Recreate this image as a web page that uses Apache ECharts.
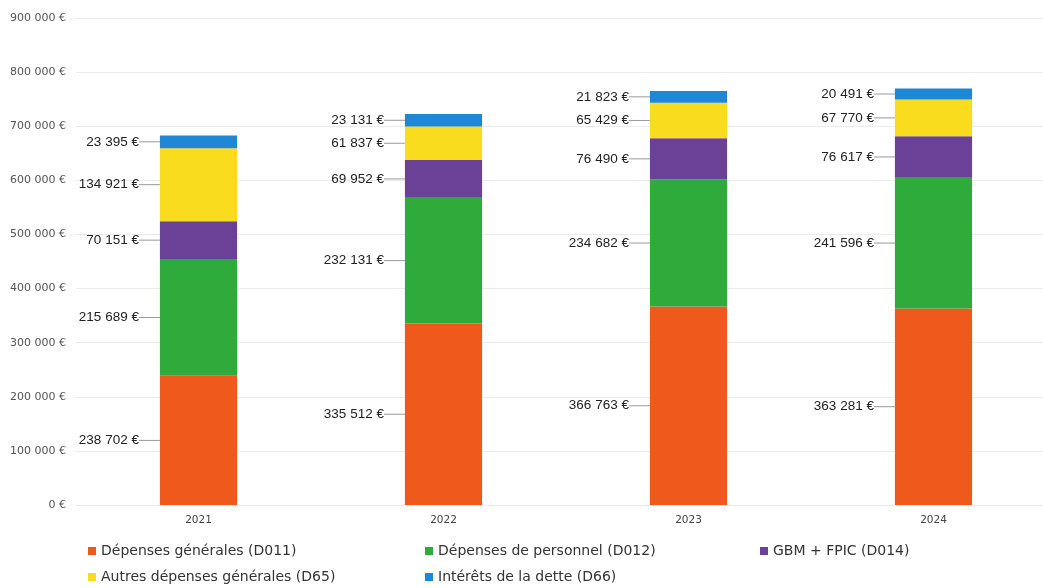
<!DOCTYPE html>
<html>
<head>
<meta charset="utf-8">
<script src="https://cdn.jsdelivr.net/npm/echarts@6/dist/echarts.min.js"></script>
<style>
  html, body { margin: 0; padding: 0; background: #fff; }
  #chart { width: 1043px; height: 588px; }
</style>
</head>
<body>
<div id="chart"></div>
<script>
const years = ['2021', '2022', '2023', '2024']
const seriesNames = [
  'Dépenses générales (D011)',
  'Dépenses de personnel (D012)',
  'GBM + FPIC (D014)',
  'Autres dépenses générales (D65)',
  'Intérêts de la dette (D66)',
]
const d011 = [238702, 335512, 366763, 363281]
const d012 = [215689, 232131, 234682, 241596]
const d014 = [70151, 69952, 76490, 76617]
const d65 = [134921, 61837, 65429, 67770]
const d66 = [23395, 23131, 21823, 20491]
const colors = ['#ef5a1c', '#2eab3b', '#6a4196', '#f9dc1e', '#1f88d6']

// 238702 -> "238 702 €"
const euro = v => String(v).replace(/\B(?=(\d{3})+(?!\d))/g, ' ') + ' €'

const values = [d011, d012, d014, d65, d66]
const series = values.map((data, i) => ({
  name: seriesNames[i],
  type: 'bar',
  stack: 'total',
  barWidth: '31.5%',
  data,
  itemStyle: { color: colors[i] },
  label: {
    show: true,
    position: 'left',
    distance: 21,
    color: '#222',
    fontSize: 13.5,
    fontFamily: 'Liberation Sans',
    formatter: p => euro(p.value),
  },
  labelLine: {
    show: true,
    lineStyle: { color: '#999', width: 1 },
  },
  labelLayout: { moveOverlap: 'shiftY' },
}))

const legendBase = {
  orient: 'vertical',
  padding: 0,
  itemWidth: 8,
  itemHeight: 8,
  itemGap: 12,
  icon: 'rect',
  textStyle: { color: '#333', fontSize: 14, fontFamily: 'DejaVu Sans' },
}

const myChart = echarts.init(document.getElementById('chart'))
myChart.setOption({
  animation: false,
  // the plot runs a bit past the right edge of the picture
  grid: { top: 18, bottom: 83, left: 76, width: 980, outerBoundsMode: 'none' },
  legend: [
    { ...legendBase, left: 88, top: 544, data: [seriesNames[0], seriesNames[3]] },
    { ...legendBase, left: 425, top: 544, data: [seriesNames[1], seriesNames[4]] },
    { ...legendBase, left: 760, top: 544, data: [seriesNames[2]] },
  ],
  xAxis: {
    type: 'category',
    data: years,
    axisLine: { show: false },
    axisTick: { show: false },
    axisLabel: { color: '#444', fontSize: 10.5, margin: 10, fontFamily: 'DejaVu Sans' },
  },
  yAxis: {
    type: 'value',
    min: 0,
    max: 900000,
    interval: 100000,
    axisLabel: {
      color: '#555',
      fontSize: 11,
      margin: 10,
      fontFamily: 'DejaVu Sans',
      formatter: v => euro(v),
    },
    splitLine: { lineStyle: { color: '#ececec' } },
  },
  series,
})
</script>
</body>
</html>
